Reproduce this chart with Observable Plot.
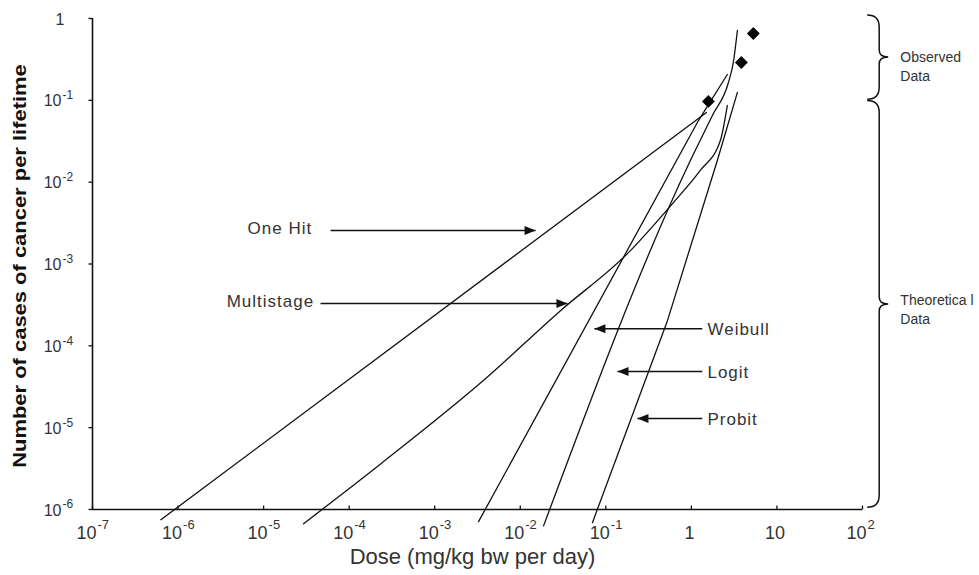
<!DOCTYPE html>
<html><head><meta charset="utf-8">
<script src="https://cdn.jsdelivr.net/npm/d3@7"></script>
<script src="https://cdn.jsdelivr.net/npm/@observablehq/plot@0.6"></script>
<style>body{margin:0;background:#fff;} #chart svg{display:block;}</style>
</head><body><div id="chart"></div>
<script>
// ---- data ----
const oneHitDose = [6.3e-7, 1.5];
const oneHitRisk = [7.5e-7, 0.071];
const multistageDose = [2.93e-5, 2.33e-4, 3.7e-3, 0.0295, 0.179, 0.616, 1.27, 2.18, 2.63];
const multistageRisk = [6.7e-7, 3.6e-6, 3.76e-5, 2.69e-4, 1.34e-3, 5.63e-3, 0.0139, 0.0323, 0.0864];
const weibullDose = [3.25e-3, 1.21, 2.63];
const weibullRisk = [7.1e-7, 0.0566, 0.207];
const logitDose = [0.0187, 0.973, 1.76, 2.71, 3.09, 3.45];
const logitRisk = [6.3e-7, 0.0184, 0.0652, 0.165, 0.29, 0.714];
const probitDose = [0.0697, 0.525, 2.01, 3.45];
const probitRisk = [6.9e-7, 2.03e-4, 0.0184, 0.125];
const observedDose = [1.58, 3.84, 5.3];
const observedRisk = [0.097, 0.29, 0.656];

const xTickVals = [1e-7, 1e-6, 1e-5, 1e-4, 1e-3, 1e-2, 1e-1, 1, 10, 100];
const xTickBase = ["10","10","10","10","10","10","10","1","10","10"];
const xTickExp  = ["-7","-6","-5","-4","-3","-2","-1","","","2"];
const yTickVals = [1e-6, 1e-5, 1e-4, 1e-3, 1e-2, 1e-1, 1];
const yTickBase = ["10","10","10","10","10","10","1"];
const yTickExp  = ["-6","-5","-4","-3","-2","-1",""];

const annoLabels = ["One Hit", "Multistage", "Weibull", "Logit", "Probit"];
const annoTextX  = [6.5e-6, 3.7e-6, 1.54, 1.54, 1.54];
const annoY      = [2.56e-3, 3.28e-4, 1.62e-4, 4.84e-5, 1.29e-5];
const arrowFromX = [6.07e-5, 4.63e-5, 1.34, 1.34, 1.34];
const arrowToX   = [0.0151, 0.0356, 0.0736, 0.137, 0.234];
const arrowPointsRight = [true, true, false, false, false];

const braceLabels = ["Observed\nData", "Theoretica l\nData"];
const braceTop    = [1.09, 0.098];
const braceBottom = [0.102, 1.05e-6];
const braceX = 115;
const braceLabelX = 277;
const braceLabelY = [0.266, 2.85e-4];

const xTitle = "Dose (mg/kg bw per day)";
const yTitle = "Number of cases of cancer per lifetime";

// ---- build tables ----
function series(name, xs, ys) { return xs.map((x, i) => ({name, dose: x, risk: ys[i]})); }
const straight = [
  ...series("One Hit", oneHitDose, oneHitRisk),
  ...series("Weibull", weibullDose, weibullRisk),
  ...series("Probit", probitDose, probitRisk)
];
const curved = [
  ...series("Multistage", multistageDose, multistageRisk),
  ...series("Logit", logitDose, logitRisk)
];
const observed = observedDose.map((d, i) => ({dose: d, risk: observedRisk[i]}));
const xTicks = xTickVals.map((v, i) => ({v, base: xTickBase[i], exp: xTickExp[i]}));
const yTicks = yTickVals.map((v, i) => ({v, base: yTickBase[i], exp: yTickExp[i]}));
const anno = annoLabels.map((t, i) => ({t, tx: annoTextX[i], y: annoY[i], x1: arrowFromX[i], x2: arrowToX[i], right: arrowPointsRight[i]}));
const braces = braceLabels.map((t, i) => ({t, top: braceTop[i], bottom: braceBottom[i], ly: braceLabelY[i]}));

const FONT = "'Liberation Sans', Arial, Helvetica, sans-serif";
const tickUp = {draw(ctx) { ctx.moveTo(0, 0); ctx.lineTo(0, -4); }};
const tickLeft = {draw(ctx) { ctx.moveTo(0, 0); ctx.lineTo(-4, 0); }};
const head = {draw(ctx) { ctx.moveTo(0, 0); ctx.lineTo(-11, -4.5); ctx.lineTo(-11, 4.5); ctx.closePath(); }};
const INK = "#111";
const TXT = "#333";

const chart = Plot.plot({
  width: 979,
  height: 575,
  marginLeft: 92,
  marginRight: 117,
  marginTop: 18,
  marginBottom: 66,
  style: {fontFamily: FONT, background: "#fff"},
  x: {type: "log", domain: [1e-7, 100], axis: null},
  y: {type: "log", domain: [1e-6, 1], axis: null},
  marks: [
    // axes lines
    Plot.ruleY([1e-6], {x1: 1e-7, x2: 100, stroke: INK, strokeWidth: 1.6}),
    Plot.ruleX([1e-7], {y1: 1e-6, y2: 1, stroke: INK, strokeWidth: 1.6}),
    Plot.dot(xTicks, {x: "v", y: () => 1e-6, symbol: tickUp, stroke: INK, strokeWidth: 1.3, fill: "none"}),
    Plot.dot(yTicks, {x: () => 1e-7, y: "v", symbol: tickLeft, stroke: INK, strokeWidth: 1.3, fill: "none"}),
    // x tick labels
    Plot.text(xTicks.filter(d => d.exp), {x: "v", y: () => 1e-6, text: "base", textAnchor: "end", dx: 4, dy: 24, fontSize: 18, fill: TXT}),
    Plot.text(xTicks.filter(d => d.exp), {x: "v", y: () => 1e-6, text: "exp", textAnchor: "start", dx: 5, dy: 15, fontSize: 13, fill: TXT}),
    Plot.text(xTicks.filter(d => !d.exp), {x: "v", y: () => 1e-6, text: "base", textAnchor: "middle", dx: -2, dy: 24, fontSize: 18, fill: TXT}),
    // y tick labels
    Plot.text(yTicks.filter(d => d.exp), {x: () => 1e-7, y: "v", text: "base", textAnchor: "end", dx: -31, dy: 1, fontSize: 16, fill: TXT}),
    Plot.text(yTicks.filter(d => d.exp), {x: () => 1e-7, y: "v", text: "exp", textAnchor: "start", dx: -30, dy: -5, fontSize: 12, fill: TXT}),
    Plot.text(yTicks.filter(d => !d.exp), {x: () => 1e-7, y: "v", text: "base", textAnchor: "end", dx: -28, dy: 1, fontSize: 16, fill: TXT}),
    // axis titles
    Plot.text([xTitle], {frameAnchor: "bottom", textAnchor: "middle", dx: -5, dy: 54, fontSize: 22, fill: TXT}),
    Plot.text([yTitle], {frameAnchor: "left", textAnchor: "middle", rotate: -90, dx: -72, dy: 2, fontSize: 18, fontWeight: "bold", fill: "#111"}),
    // model lines
    Plot.line(straight, {x: "dose", y: "risk", z: "name", stroke: INK, strokeWidth: 1.3}),
    Plot.line(curved, {x: "dose", y: "risk", z: "name", stroke: INK, strokeWidth: 1.3, curve: "monotone-x"}),
    // observed data
    Plot.dot(observed, {x: "dose", y: "risk", symbol: "diamond2", r: 5.8, fill: "#000", stroke: "none"}),
    // annotations
    Plot.link(anno, {x1: "x1", x2: "x2", y1: "y", y2: "y", stroke: INK, strokeWidth: 1.5}),
    Plot.dot(anno, {x: "x2", y: "y", symbol: head, rotate: d => d.right ? 0 : 180, fill: INK, stroke: "none"}),
    Plot.text(anno.filter(d => d.right), {x: "tx", y: "y", text: "t", textAnchor: "start", dy: -2, fontSize: 17, fill: TXT}),
    Plot.text(anno.filter(d => !d.right), {x: "tx", y: "y", text: "t", textAnchor: "start", dy: 1, fontSize: 17, fill: TXT}),
    // brace labels
    Plot.text(braces, {x: () => braceLabelX, y: "ly", text: "t", textAnchor: "start", lineHeight: 1.35, fontSize: 14, fill: TXT})
  ]
});

// post-process: letter spacing & stretched y title
d3.select(chart).selectAll("text").each(function() {
  const t = this.textContent;
  if (annoLabels.includes(t)) this.setAttribute("letter-spacing", "1");
  if (t === yTitle) {
    const tr = this.getAttribute("transform");
    if (tr && tr.includes("rotate")) this.setAttribute("transform", tr + " scale(1.22,1)");
  }
});

// braces drawn through the plot's scales
const sx = chart.scale("x"), sy = chart.scale("y");
const gB = d3.select(chart).append("g").attr("fill", "none").attr("stroke", INK).attr("stroke-width", 1.5);
braces.forEach(b => {
  const x0 = sx.apply(braceX), y0 = sy.apply(b.top), y1 = sy.apply(b.bottom);
  const ym = (y0 + y1) / 2, w = 12, p = 9;
  const path = `M${x0},${y0} Q${x0 + w},${y0} ${x0 + w},${y0 + w} L${x0 + w},${ym - 7} Q${x0 + w},${ym} ${x0 + w + p},${ym} Q${x0 + w},${ym} ${x0 + w},${ym + 7} L${x0 + w},${y1 - w} Q${x0 + w},${y1} ${x0},${y1}`;
  gB.append("path").attr("d", path);
});

document.getElementById("chart").appendChild(chart);
</script></body></html>
